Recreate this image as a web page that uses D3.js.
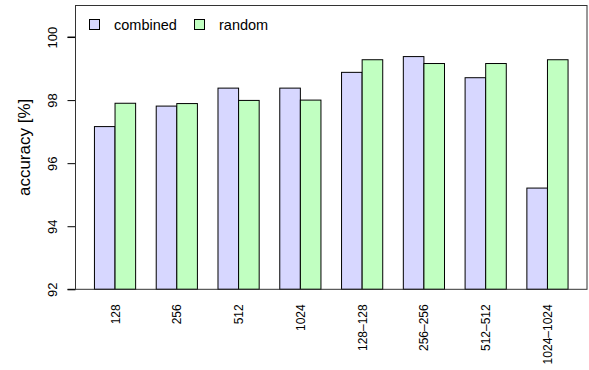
<!DOCTYPE html>
<html><head><meta charset="utf-8">
<script src="https://cdn.jsdelivr.net/npm/d3@7"></script>
<style>body{margin:0;background:#fff}text{font-family:"Liberation Sans",Arial,sans-serif}</style>
</head><body>
<svg id="c" width="589" height="370"></svg>
<script>
const categories = ["128","256","512","1024","128\u2013128","256\u2013256","512\u2013512","1024\u20131024"];
const seriesNames = ["combined","random"];
const combined = [97.16, 97.81, 98.38, 98.38, 98.88, 99.38, 98.71, 95.21];
const random   = [97.90, 97.89, 97.99, 98.00, 99.28, 99.16, 99.16, 99.28];
const yTicks = [92, 94, 96, 98, 100];
const colors = ["#d7d7ff", "#c1ffc1"];

const svg = d3.select("#c");
const L = 75.5, R = 587, T = 5.5, B = 289.3;
// R barplot unit space: groups of 2 bars + 1 gap, usr range extended 4%
const x = d3.scaleLinear().domain([0.08, 24.92]).range([L, R]);
const y = d3.scaleLinear().domain([92, 101]).range([B, T]);
const series = [combined, random];

series.forEach((vals, s) => {
  svg.append("g").selectAll("rect").data(vals).join("rect")
    .attr("x", (d, i) => x(1 + 3 * i + s))
    .attr("width", x(2) - x(1))
    .attr("y", d => y(d))
    .attr("height", d => y(92) - y(d))
    .attr("fill", colors[s]).attr("stroke", "#000").attr("stroke-width", 1);
});

// y axis
const yAxis = svg.append("g").attr("transform", `translate(${L},0)`)
  .call(d3.axisLeft(y).tickValues(yTicks).tickSize(8).tickPadding(0).tickFormat(d3.format("d")));
yAxis.select(".domain").attr("d", `M-8,${y(92)}H0V${y(100)}H-8`).attr("stroke", "#000");
yAxis.selectAll(".tick line").attr("stroke", "#000");
yAxis.selectAll(".tick text")
  .attr("x", 0).attr("dy", null)
  .attr("transform", "translate(-19,0) rotate(-90)")
  .attr("text-anchor", "middle").attr("font-size", 13).attr("fill", "#000")
  .attr("font-family", "Liberation Sans, Arial, sans-serif");

// x labels
svg.append("g").selectAll("text").data(categories).join("text")
  .attr("transform", (d, i) => `translate(${x(2 + 3 * i) + 4.5},${B + 15}) rotate(-90)`)
  .attr("text-anchor", "end").attr("font-size", 12).text(d => d);

// box
svg.append("rect").attr("x", L).attr("y", T).attr("width", R - L).attr("height", B - T)
  .attr("fill", "none").attr("stroke", "#333").attr("stroke-width", 1);

// y label
svg.append("text").attr("transform", `translate(30,${(T + B) / 2}) rotate(-90)`)
  .attr("text-anchor", "middle").attr("font-size", 17).text("accuracy [%]");

// legend
const leg = svg.append("g");
const legX = [89, 194];
seriesNames.forEach((n, s) => {
  leg.append("rect").attr("x", legX[s] + 0.5).attr("y", 19.5).attr("width", 10).attr("height", 10)
    .attr("fill", colors[s]).attr("stroke", "#000");
  leg.append("text").attr("x", legX[s] + 25).attr("y", 29.5).attr("font-size", 14.5).text(n);
});
</script>
</body></html>
